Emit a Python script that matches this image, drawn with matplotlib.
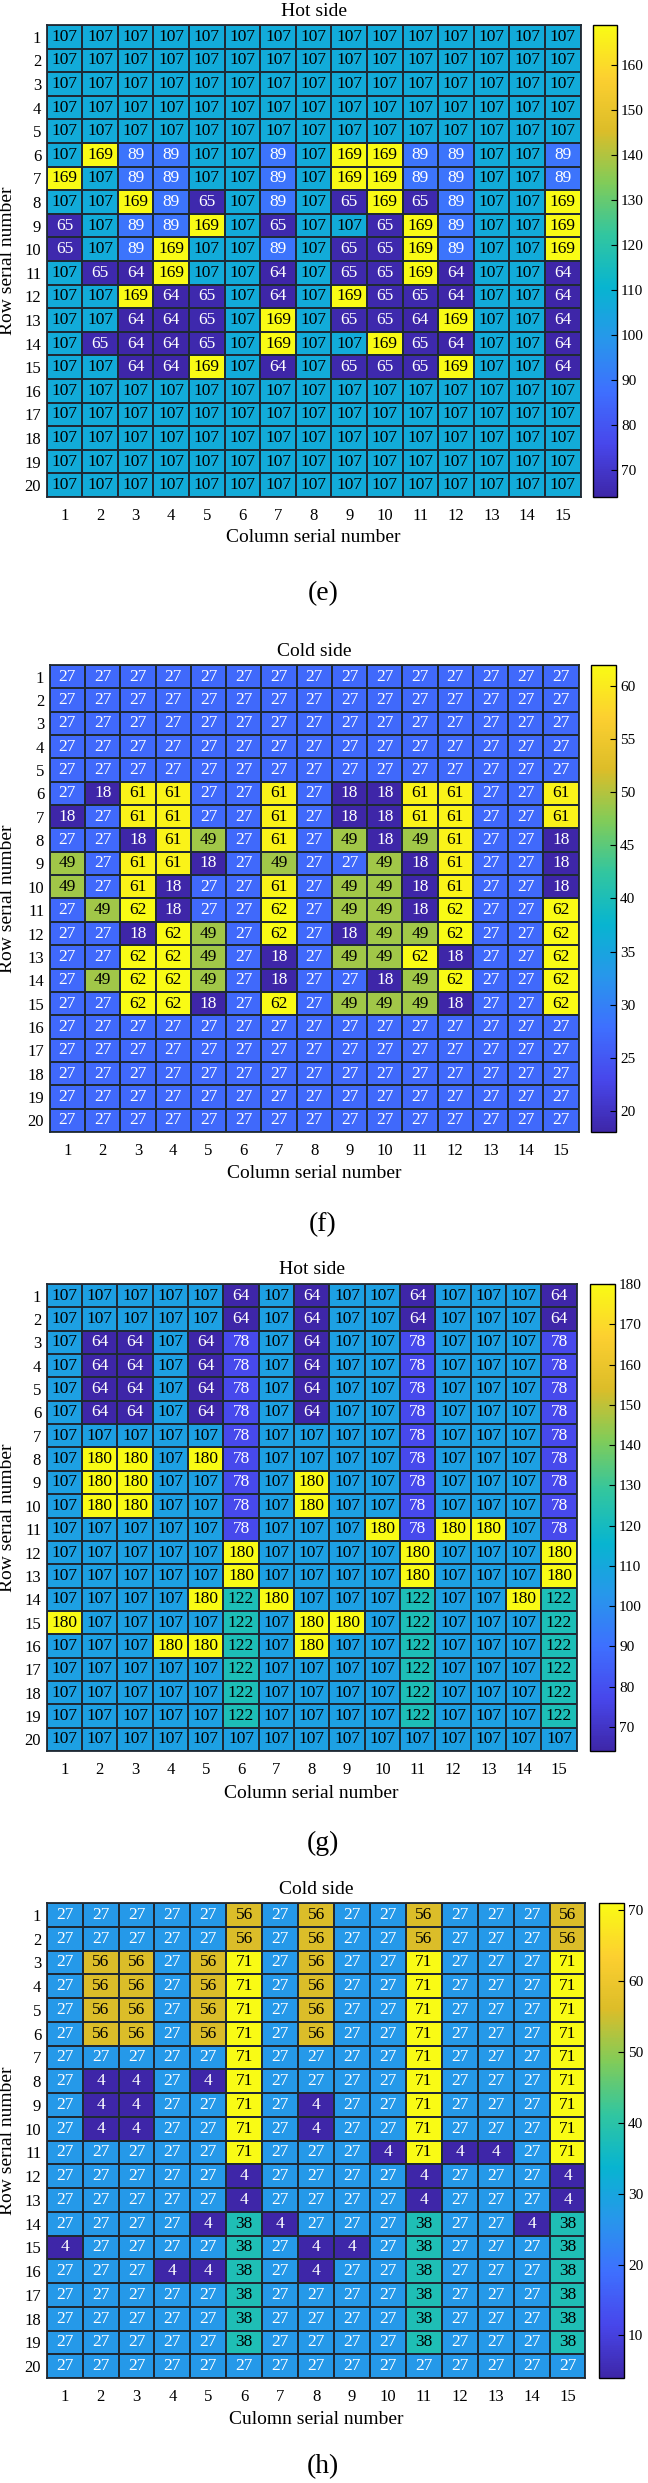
import numpy as np
import matplotlib
matplotlib.use("Agg")
import matplotlib.pyplot as plt
from matplotlib.colors import LinearSegmentedColormap

plt.rcParams['font.family'] = ['Liberation Serif', 'DejaVu Serif']

# ---------------- data ----------------
rows = list(range(1, 21))
cols = list(range(1, 16))

hot_e = [
    [107]*15, [107]*15, [107]*15, [107]*15, [107]*15,
    [107,169,89,89,107,107,89,107,169,169,89,89,107,107,89],
    [169,107,89,89,107,107,89,107,169,169,89,89,107,107,89],
    [107,107,169,89,65,107,89,107,65,169,65,89,107,107,169],
    [65,107,89,89,169,107,65,107,107,65,169,89,107,107,169],
    [65,107,89,169,107,107,89,107,65,65,169,89,107,107,169],
    [107,65,64,169,107,107,64,107,65,65,169,64,107,107,64],
    [107,107,169,64,65,107,64,107,169,65,65,64,107,107,64],
    [107,107,64,64,65,107,169,107,65,65,64,169,107,107,64],
    [107,65,64,64,65,107,169,107,107,169,65,64,107,107,64],
    [107,107,64,64,169,107,64,107,65,65,65,169,107,107,64],
    [107]*15, [107]*15, [107]*15, [107]*15, [107]*15,
]

cold_f = [
    [27]*15, [27]*15, [27]*15, [27]*15, [27]*15,
    [27,18,61,61,27,27,61,27,18,18,61,61,27,27,61],
    [18,27,61,61,27,27,61,27,18,18,61,61,27,27,61],
    [27,27,18,61,49,27,61,27,49,18,49,61,27,27,18],
    [49,27,61,61,18,27,49,27,27,49,18,61,27,27,18],
    [49,27,61,18,27,27,61,27,49,49,18,61,27,27,18],
    [27,49,62,18,27,27,62,27,49,49,18,62,27,27,62],
    [27,27,18,62,49,27,62,27,18,49,49,62,27,27,62],
    [27,27,62,62,49,27,18,27,49,49,62,18,27,27,62],
    [27,49,62,62,49,27,18,27,27,18,49,62,27,27,62],
    [27,27,62,62,18,27,62,27,49,49,49,18,27,27,62],
    [27]*15, [27]*15, [27]*15, [27]*15, [27]*15,
]

hot_g = [
    [107,107,107,107,107,64,107,64,107,107,64,107,107,107,64],
    [107,107,107,107,107,64,107,64,107,107,64,107,107,107,64],
    [107,64,64,107,64,78,107,64,107,107,78,107,107,107,78],
    [107,64,64,107,64,78,107,64,107,107,78,107,107,107,78],
    [107,64,64,107,64,78,107,64,107,107,78,107,107,107,78],
    [107,64,64,107,64,78,107,64,107,107,78,107,107,107,78],
    [107,107,107,107,107,78,107,107,107,107,78,107,107,107,78],
    [107,180,180,107,180,78,107,107,107,107,78,107,107,107,78],
    [107,180,180,107,107,78,107,180,107,107,78,107,107,107,78],
    [107,180,180,107,107,78,107,180,107,107,78,107,107,107,78],
    [107,107,107,107,107,78,107,107,107,180,78,180,180,107,78],
    [107,107,107,107,107,180,107,107,107,107,180,107,107,107,180],
    [107,107,107,107,107,180,107,107,107,107,180,107,107,107,180],
    [107,107,107,107,180,122,180,107,107,107,122,107,107,180,122],
    [180,107,107,107,107,122,107,180,180,107,122,107,107,107,122],
    [107,107,107,180,180,122,107,180,107,107,122,107,107,107,122],
    [107,107,107,107,107,122,107,107,107,107,122,107,107,107,122],
    [107,107,107,107,107,122,107,107,107,107,122,107,107,107,122],
    [107,107,107,107,107,122,107,107,107,107,122,107,107,107,122],
    [107]*15,
]

cold_h = [
    [27,27,27,27,27,56,27,56,27,27,56,27,27,27,56],
    [27,27,27,27,27,56,27,56,27,27,56,27,27,27,56],
    [27,56,56,27,56,71,27,56,27,27,71,27,27,27,71],
    [27,56,56,27,56,71,27,56,27,27,71,27,27,27,71],
    [27,56,56,27,56,71,27,56,27,27,71,27,27,27,71],
    [27,56,56,27,56,71,27,56,27,27,71,27,27,27,71],
    [27,27,27,27,27,71,27,27,27,27,71,27,27,27,71],
    [27,4,4,27,4,71,27,27,27,27,71,27,27,27,71],
    [27,4,4,27,27,71,27,4,27,27,71,27,27,27,71],
    [27,4,4,27,27,71,27,4,27,27,71,27,27,27,71],
    [27,27,27,27,27,71,27,27,27,4,71,4,4,27,71],
    [27,27,27,27,27,4,27,27,27,27,4,27,27,27,4],
    [27,27,27,27,27,4,27,27,27,27,4,27,27,27,4],
    [27,27,27,27,4,38,4,27,27,27,38,27,27,4,38],
    [4,27,27,27,27,38,27,4,4,27,38,27,27,27,38],
    [27,27,27,4,4,38,27,4,27,27,38,27,27,27,38],
    [27,27,27,27,27,38,27,27,27,27,38,27,27,27,38],
    [27,27,27,27,27,38,27,27,27,27,38,27,27,27,38],
    [27,27,27,27,27,38,27,27,27,27,38,27,27,27,38],
    [27]*15,
]

ticks_e = [70, 80, 90, 100, 110, 120, 130, 140, 150, 160]
ticks_f = [20, 25, 30, 35, 40, 45, 50, 55, 60]
ticks_g = [70, 80, 90, 100, 110, 120, 130, 140, 150, 160, 170, 180]
ticks_h = [10, 20, 30, 40, 50, 60, 70]

titles = ['Hot side', 'Cold side', 'Hot side', 'Cold side']
xlabels = ['Column serial number', 'Column serial number',
           'Column serial number', 'Culomn serial number']
ylabel = 'Row serial number'
panel_labels = ['(e)', '(f)', '(g)', '(h)']

# ---------------- style ----------------
parula_anchors = [
    (0.2422, 0.1504, 0.6603), (0.2803, 0.2782, 0.9221), (0.2440, 0.4358, 0.9988),
    (0.1540, 0.5902, 0.9218), (0.0297, 0.7082, 0.8163), (0.1938, 0.7758, 0.6251),
    (0.5044, 0.7993, 0.3480), (0.8634, 0.7406, 0.1596), (0.9892, 0.8136, 0.1885),
    (0.9769, 0.9839, 0.0805)]
parula = LinearSegmentedColormap.from_list('parula', parula_anchors, N=256)

W, H = 648, 2483
fig = plt.figure(figsize=(W/100, H/100), dpi=100)

def ax_px(l, t, r, b):
    return fig.add_axes([l/W, 1 - b/H, (r-l)/W, (b-t)/H])

layout = [
    # grid L,T,R,B ; cbar L,R ; title_y ; xlabel_y ; label_y ; white text below
    dict(grid=(46.7, 25, 580.5, 497), cb=(593, 617), ty=12, xly=538, ly=594, wb=100),
    dict(grid=(49.8, 665, 578.6, 1132), cb=(591, 616), ty=652, xly=1174, ly=1225, wb=30),
    dict(grid=(46.7, 1284, 576.7, 1751), cb=(590, 615), ty=1269, xly=1793, ly=1843, wb=100),
    dict(grid=(46.7, 1903, 585.5, 2378), cb=(599, 624), ty=1890, xly=2420, ly=2467, wb=30),
]

datasets = [hot_e, cold_f, hot_g, cold_h]
tick_sets = [ticks_e, ticks_f, ticks_g, ticks_h]

for k in range(4):
    data = np.array(datasets[k])
    lay = layout[k]
    L, T, R, B = lay['grid']
    ax = ax_px(L, T, R, B)
    vmin, vmax = data.min(), data.max()
    xe = np.arange(len(cols) + 1) + 0.5
    ye = np.arange(len(rows) + 1) + 0.5
    mesh = ax.pcolormesh(xe, ye, data, cmap=parula, vmin=vmin, vmax=vmax,
                         edgecolors='#1f2a35', linewidth=1.1)
    ax.set_xlim(0.5, len(cols) + 0.5)
    ax.set_ylim(len(rows) + 0.5, 0.5)
    for i, r in enumerate(rows):
        for j, c in enumerate(cols):
            v = data[i, j]
            ax.text(c, r, str(v), ha='center', va='center', fontsize=12.5,
                    color='white' if v < lay['wb'] else 'black')
    ax.set_xticks(cols)
    ax.set_xticklabels([str(c) for c in cols])
    ax.set_yticks(rows)
    ax.set_yticklabels([str(r) for r in rows])
    ax.tick_params(axis='both', length=0, labelsize=12)
    ax.tick_params(axis='x', pad=8)
    ax.tick_params(axis='y', pad=4)
    for s in ax.spines.values():
        s.set_color('#1f2a35')
        s.set_linewidth(1.3)

    cL, cR = lay['cb']
    cax = ax_px(cL, T, cR, B)
    cb = fig.colorbar(mesh, cax=cax, ticks=tick_sets[k])
    cb.outline.set_linewidth(1.0)
    cb.outline.set_edgecolor('black')
    cax.tick_params(direction='in', length=4, width=0.8, labelsize=11, pad=3)

    cx = (L + R) / 2
    fig.text(cx / W, 1 - lay['ty'] / H, titles[k], ha='center', va='center', fontsize=14)
    fig.text(cx / W, 1 - lay['xly'] / H, xlabels[k], ha='center', va='center', fontsize=14)
    fig.text(8 / W, 1 - ((T + B) / 2) / H, ylabel, ha='center', va='center',
             rotation=90, fontsize=14)
    fig.text(323 / W, 1 - lay['ly'] / H, panel_labels[k], ha='center', va='center', fontsize=20)

fig.savefig('out.png', dpi=100, facecolor='white')
